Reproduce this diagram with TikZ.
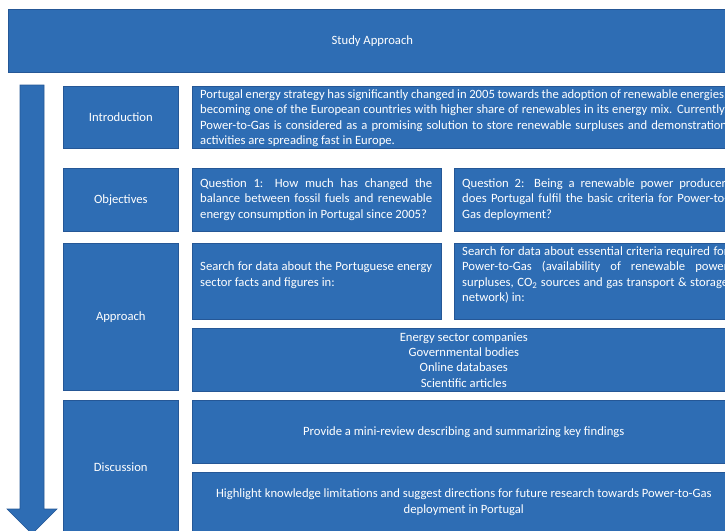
\documentclass[tikz,border=0pt]{standalone}
\usepackage{fontspec}
\setmainfont{Carlito}
\definecolor{boxblue}{RGB}{46,109,180}
\definecolor{edgeblue}{RGB}{37,87,150}
\begin{document}
\begin{tikzpicture}[x=1pt,y=-1pt,
  box/.style={draw=edgeblue, fill=boxblue, line width=0.6pt, text=white,
    font=\fontsize{12.65}{15.4}\selectfont, inner sep=0pt, anchor=north west, align=center},
  txt/.style={text=white, font=\fontsize{12.65}{15.4}\selectfont, inner sep=0pt, anchor=west, align=left}]
\useasboundingbox (0,0) rectangle (725,530);
\clip (0,0) rectangle (725,530);
% header
\node[box, minimum width=728pt, minimum height=63pt] (study) at (8,9) {Study Approach};
% arrow
\path[draw=edgeblue, fill=boxblue, line width=0.6pt]
  (20,85) -- (44,85) -- (44,509) -- (57,509) -- (32,534) -- (7,509) -- (20,509) -- cycle;
% left column
\node[box, minimum width=115pt, minimum height=62pt] (intro) at (63,86) {Introduction};
\node[box, minimum width=115pt, minimum height=63pt] (obj) at (63,168) {Objectives};
\node[box, minimum width=115pt, minimum height=147pt] (appr) at (63,243) {Approach};
\node[box, minimum width=115pt, minimum height=134pt] (disc) at (63,400) {Discussion};
% right column
\node[box, minimum width=543pt, minimum height=62pt] (introbox) at (192,86) {};
\node[box, minimum width=249pt, minimum height=63pt] (q1) at (192,168) {};
\node[box, minimum width=281pt, minimum height=63pt] (q2) at (454,168) {};
\node[box, minimum width=249pt, minimum height=76pt] (s1) at (192,243) {};
\node[box, minimum width=281pt, minimum height=76pt] (s2) at (454,243) {};
\node[box, minimum width=543pt, minimum height=63pt] (src) at (192,328)
  {Energy sector companies\\Governmental bodies\\Online databases\\Scientific articles};
\node[box, minimum width=543pt, minimum height=63pt] (mini) at (192,400)
  {Provide a mini-review describing and summarizing key findings};
\node[box, minimum width=543pt, minimum height=60pt] (high) at (192,472)
  {Highlight knowledge limitations and suggest directions for future research towards Power-to-Gas\\deployment in Portugal};
% justified texts
\node[txt] (introtxt) at (200,118)
  {\makebox[527pt][s]{Portugal energy strategy has significantly changed in 2005 towards the adoption of renewable energies,}\\
   \makebox[527pt][s]{becoming one of the European countries with higher share of renewables in its energy mix. Currently,}\\
   \makebox[527pt][s]{Power-to-Gas is considered as a promising solution to store renewable surpluses and demonstration}\\
   activities are spreading fast in Europe.};
\node[txt] (q1txt) at (200,199.5)
  {\makebox[232pt][s]{Question 1: How much has changed the}\\
   \makebox[232pt][s]{balance between fossil fuels and renewable}\\
   energy consumption in Portugal since 2005?};
\node[txt] (q2txt) at (462,199.5)
  {\makebox[266pt][s]{Question 2: Being a renewable power producer,}\\
   \makebox[266pt][s]{does Portugal fulfil the basic criteria for Power-to-}\\
   Gas deployment?};
\node[txt] (s1txt) at (200,275)
  {\makebox[232pt][s]{Search for data about the Portuguese energy}\\
   sector facts and figures in:};
\node[txt] (s2txt) at (462,275)
  {\makebox[266pt][s]{Search for data about essential criteria required for}\\
   \makebox[266pt][s]{Power-to-Gas (availability of renewable power}\\
   \makebox[266pt][s]{surpluses, CO\textsubscript{2} sources and gas transport \& storage}\\
   network) in:};
\end{tikzpicture}
\end{document}
